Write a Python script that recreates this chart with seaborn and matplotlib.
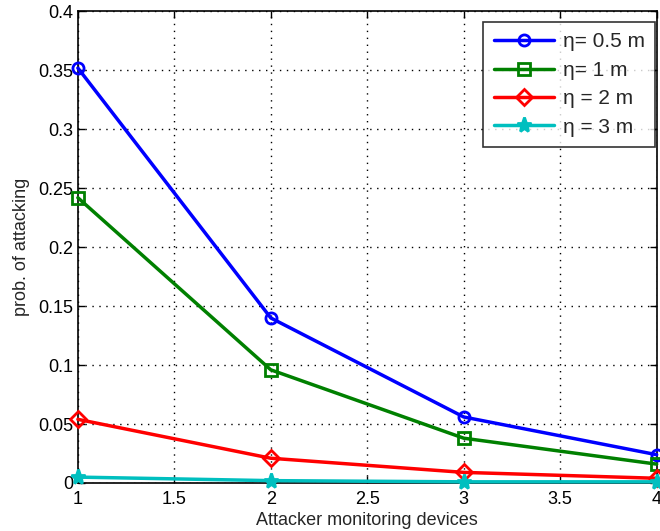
import matplotlib
matplotlib.use("Agg")
import matplotlib.pyplot as plt
import seaborn as sns
import pandas as pd

devices = [1, 2, 3, 4]
eta_05 = [0.352, 0.140, 0.056, 0.024]
eta_1 = [0.242, 0.096, 0.038, 0.016]
eta_2 = [0.054, 0.021, 0.009, 0.004]
eta_3 = [0.005, 0.002, 0.001, 0.001]
labels = ["η= 0.5 m", "η= 1 m", "η = 2 m", "η = 3 m"]
colors = ["#0000ff", "#008000", "#ff0000", "#00bfbf"]
markers = ["o", "s", "D", "*"]

sns.set_style("ticks")
plt.rcParams['font.family'] = ['Liberation Sans', 'DejaVu Sans']

fig = plt.figure(figsize=(6.6, 5.31), dpi=100)
ax = fig.add_axes([0.118, 0.0904, 0.877, 0.888])

series = [eta_05, eta_1, eta_2, eta_3]
for vals, lab, col, mk in zip(series, labels, colors, markers):
    df = pd.DataFrame({"x": devices, "y": vals})
    sns.lineplot(data=df, x="x", y="y", ax=ax, color=col, linewidth=2.5,
                 marker=mk, markersize=11 if mk == "*" else 8,
                 markerfacecolor="none" if mk != "*" else col,
                 markeredgecolor=col, markeredgewidth=2, label=lab,
                 clip_on=False, zorder=3)

ax.set_xlim(1, 4)
ax.set_ylim(0, 0.4)
ax.set_xticks([1, 1.5, 2, 2.5, 3, 3.5, 4])
ax.set_xticklabels(["1", "1.5", "2", "2.5", "3", "3.5", "4"])
ax.set_yticks([0, 0.05, 0.1, 0.15, 0.2, 0.25, 0.3, 0.35, 0.4])
ax.set_yticklabels(["0", "0.05", "0.1", "0.15", "0.2", "0.25", "0.3", "0.35", "0.4"])
ax.grid(True, linestyle=(0, (1, 4)), color="black", linewidth=1.0)
ax.tick_params(direction="in", length=5, labelsize=13, colors="black",
               top=True, right=True, width=1)
ax.tick_params(axis="x", pad=6)
ax.tick_params(axis="y", pad=3)
for s in ax.spines.values():
    s.set_visible(True)
    s.set_color("black")
    s.set_linewidth(1.2)
ax.set_xlabel("Attacker monitoring devices", fontsize=13, labelpad=3)
ax.set_ylabel("prob. of attacking", fontsize=13, labelpad=6)

leg = ax.legend(loc="upper right", bbox_to_anchor=(655 / 660, 1 - 22 / 531),
                bbox_transform=fig.transFigure, fontsize=15, frameon=True,
                fancybox=False, handlelength=2.9, borderpad=0.5,
                labelspacing=0.45, handletextpad=0.4, borderaxespad=0)
leg.get_frame().set_edgecolor("black")
leg.get_frame().set_linewidth(1.2)

fig.savefig("out.png", dpi=100)
